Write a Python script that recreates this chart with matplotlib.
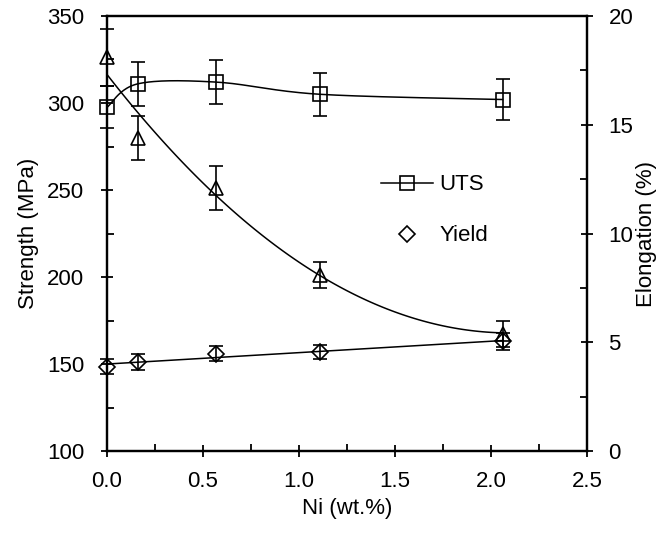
import numpy as np
import matplotlib.pyplot as plt
from matplotlib.lines import Line2D
from matplotlib.ticker import MultipleLocator

plt.rcParams['font.family'] = ['Liberation Sans', 'DejaVu Sans']
plt.rcParams['font.size'] = 16

# ---------------- data ----------------
ni = [0.0, 0.16, 0.57, 1.11, 2.06]          # Ni content (wt.%)
uts = [297.5, 311, 312, 305, 302]           # MPa
uts_err = [12, 12.5, 12.5, 12.5, 12]
yld = [148.5, 151, 156, 157, 163]           # MPa
yld_err = [4.5, 4.5, 4.5, 4, 5]
elong = [18.1, 14.4, 12.1, 8.1, 5.4]        # %
elong_err = [1.3, 1.0, 1.0, 0.6, 0.6]


def smooth_line(x, y, sx, sy, n=40):
    # bezier smoothing between points, done in scaled coordinates
    px = np.asarray(x) / sx
    py = np.asarray(y) / sy
    pts = np.column_stack([px, py])
    out = []
    m = len(pts)
    for i in range(m - 1):
        p0 = pts[max(i - 1, 0)]
        p1 = pts[i]
        p2 = pts[i + 1]
        p3 = pts[min(i + 2, m - 1)]
        c1 = p1 + (p2 - p0) / 6
        c2 = p2 - (p3 - p1) / 6
        t = np.linspace(0, 1, n)[:, None]
        seg = ((1 - t) ** 3) * p1 + 3 * ((1 - t) ** 2) * t * c1 + 3 * (1 - t) * t ** 2 * c2 + t ** 3 * p2
        out.append(seg)
    out = np.vstack(out)
    return out[:, 0] * sx, out[:, 1] * sy


def no_clip(cont):
    for art in cont.get_children():
        art.set_clip_on(False)


fig = plt.figure(figsize=(6.63, 5.33), dpi=100)
ax = fig.add_axes([0.1614, 0.1538, 0.724, 0.8162])
ax2 = ax.twinx()

lw = 1.1
mk = dict(markerfacecolor='none', markeredgecolor='black', markeredgewidth=1.2,
          ecolor='black', elinewidth=1.2, capsize=5, capthick=1.2, linestyle='none')

# UTS
sx, sy = smooth_line(ni, uts, 2.5 / 480, 250 / 435)
ax.plot(sx, sy, color='black', lw=lw)
no_clip(ax.errorbar(ni, uts, yerr=uts_err, marker='s', markersize=10.5, **mk))

# Yield (linear trend)
cy = np.polyfit(ni, yld, 1)
xx = np.linspace(0, max(ni), 100)
ax.plot(xx, np.polyval(cy, xx), color='black', lw=lw)
no_clip(ax.errorbar(ni, yld, yerr=yld_err, marker='D', markersize=8, **mk))

# Elongation (2nd order trend)
ce = np.polyfit(ni, elong, 2)
ax2.plot(xx, np.polyval(ce, xx), color='black', lw=lw)
no_clip(ax2.errorbar(ni, elong, yerr=elong_err, marker='^', markersize=10.5, **mk))

ax.set_xlim(0, 2.5)
ax.set_ylim(100, 350)
ax2.set_ylim(0, 20)
ax.xaxis.set_major_locator(MultipleLocator(0.5))
ax.xaxis.set_minor_locator(MultipleLocator(0.25))
ax.yaxis.set_major_locator(MultipleLocator(50))
ax.yaxis.set_minor_locator(MultipleLocator(25))
ax2.yaxis.set_major_locator(MultipleLocator(5))
ax2.yaxis.set_minor_locator(MultipleLocator(2.5))
ax.xaxis.set_major_formatter(plt.FormatStrFormatter('%.1f'))

for a in (ax, ax2):
    for s in a.spines.values():
        s.set_linewidth(1.6)
    a.tick_params(which='major', direction='inout', length=9, width=1.3)
    a.tick_params(which='minor', direction='in', length=5, width=1.3)
ax.tick_params(axis='y', which='major', pad=12)
ax.tick_params(axis='x', which='major', pad=10)
ax2.tick_params(axis='y', which='major', pad=11)
ax.tick_params(top=False, right=False, which='both')
ax2.tick_params(axis='y', which='both', left=False)

ax.set_xlabel('Ni (wt.%)', labelpad=4)
ax.set_ylabel('Strength (MPa)', labelpad=6)
ax2.set_ylabel('Elongation (%)', labelpad=2)

handles = [Line2D([], [], color='black', lw=lw, marker='s', markersize=10.5,
                  markerfacecolor='none', markeredgewidth=1.2),
           Line2D([], [], color='black', linestyle='none', marker='D', markersize=8,
                  markerfacecolor='none', markeredgewidth=1.2)]
ax.legend(handles, ['UTS', 'Yield'], loc='center', bbox_to_anchor=(0.682, 0.553),
          frameon=False, handlelength=2.35, handletextpad=0.27, labelspacing=1.35)

fig.savefig('out.png', dpi=100)
